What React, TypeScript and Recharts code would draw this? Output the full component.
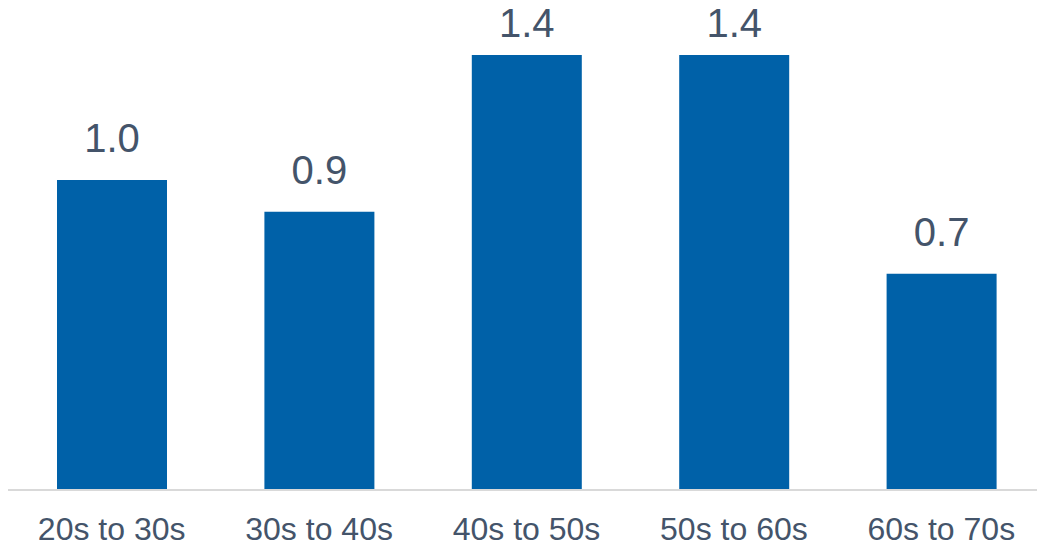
import React from "react";
import { BarChart, Bar, XAxis, YAxis, LabelList } from "recharts";

const categories = ["20s to 30s", "30s to 40s", "40s to 50s", "50s to 60s", "60s to 70s"];
const values = [0.998, 0.896, 1.4, 1.4, 0.696];

const data = categories.map((c, i) => ({ name: c, value: values[i] }));

const FONT = "'Liberation Sans', Arial, sans-serif";
const TEXT = "#44546A";

const ValueLabel = (props: any) => {
  const { x, y, width, value } = props;
  // keep labels inside the chart area, like the original (baseline no higher than 37px from the top)
  const baseline = Math.max(Number(y) - 28, 37);
  return (
    <text
      x={Number(x) + Number(width) / 2}
      y={baseline}
      textAnchor="middle"
      fill={TEXT}
      fontSize={40}
      fontFamily={FONT}
    >
      {Number(value).toFixed(1)}
    </text>
  );
};

export default function App() {
  return (
    <div style={{ position: "absolute", left: 0, top: 0, width: 1037, height: 545, overflow: "hidden", background: "#fff" }}>
      <BarChart
        width={1046}
        height={545}
        data={data}
        margin={{ top: 24, right: 1, bottom: 0, left: 8 }}
        barSize={110}
      >
        <YAxis hide domain={[0, 1.5]} />
        <XAxis
          dataKey="name"
          height={55}
          tickLine={false}
          tickSize={0}
          tickMargin={27}
          axisLine={{ stroke: "#D9D9D9", strokeWidth: 2 }}
          tick={{ fill: TEXT, fontSize: 32, fontFamily: FONT }}
          interval={0}
        />
        <Bar dataKey="value" fill="#0061A8" isAnimationActive={false}>
          <LabelList dataKey="value" content={ValueLabel} />
        </Bar>
      </BarChart>
    </div>
  );
}
